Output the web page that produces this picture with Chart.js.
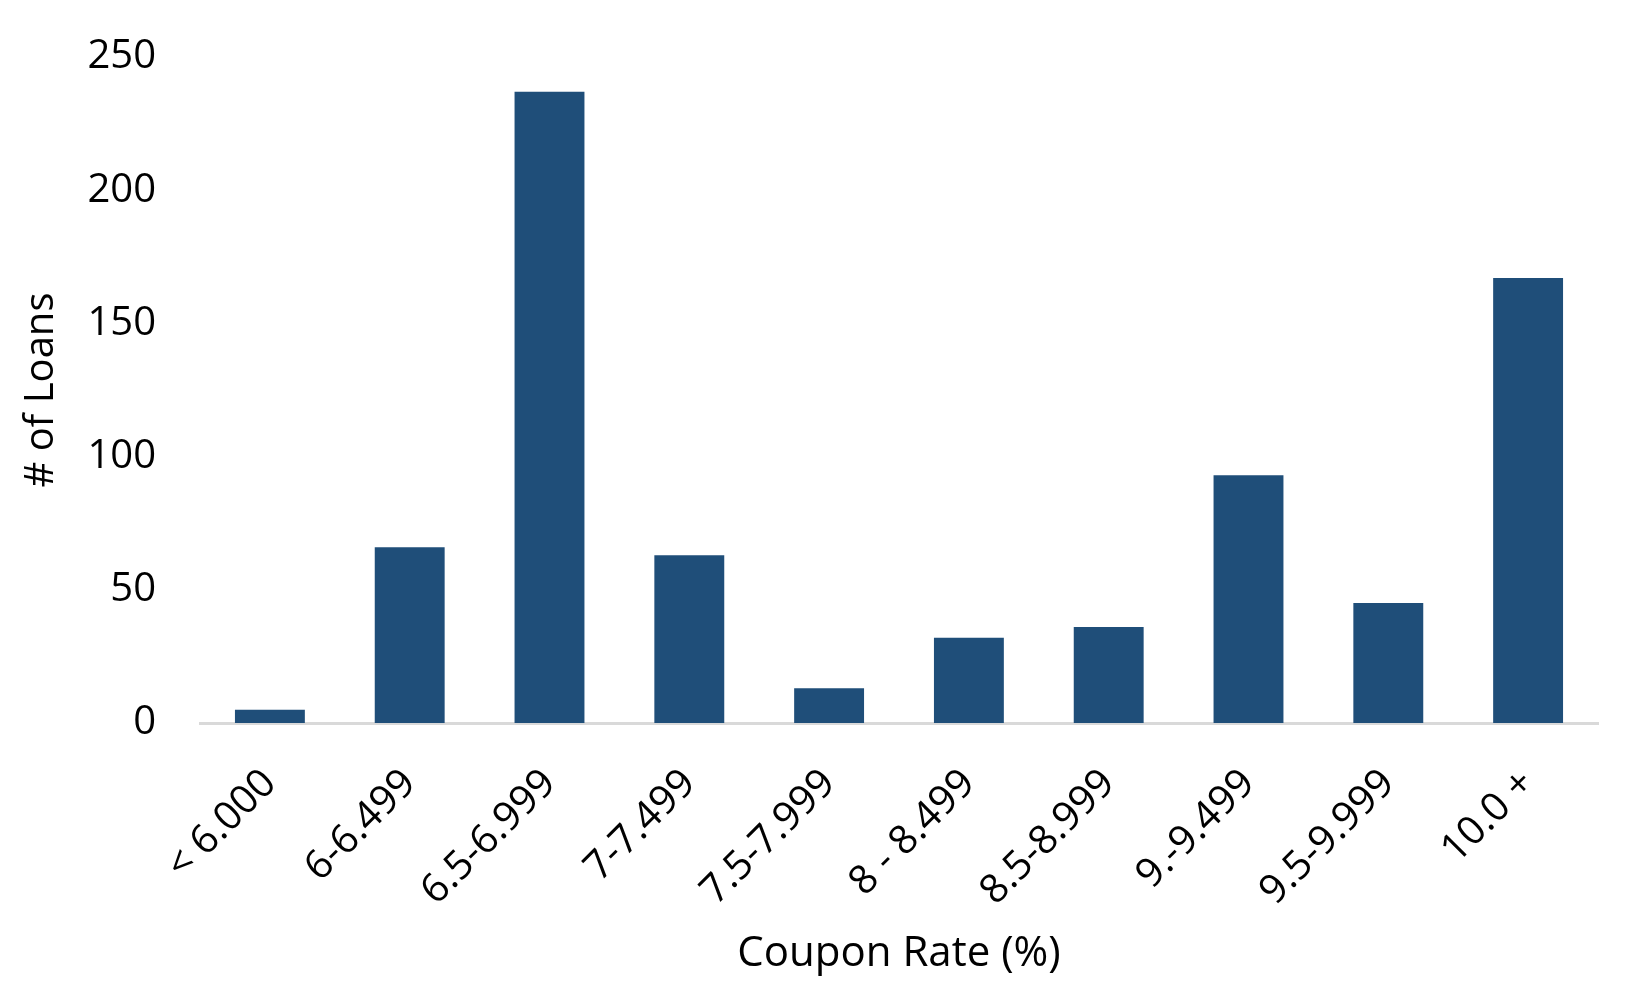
<!DOCTYPE html>
<html>
<head>
<meta charset="utf-8">
<title>Coupon Rate</title>
<script src="https://cdn.jsdelivr.net/npm/chart.js@4.4.1/dist/chart.umd.min.js"></script>
<style>
    html, body { margin: 0; padding: 0; background: #ffffff; }
    #myChartBar { display: block; }
</style>
</head>
<body>
<canvas id="myChartBar" width="1650" height="990"></canvas>
<script>
// Chart data
const categories = ['< 6.000', '6-6.499', '6.5-6.999', '7-7.499', '7.5-7.999',
                    '8 - 8.499', '8.5-8.999', '9.-9.499', '9.5-9.999', '10.0 +'];
const loanCounts = [5, 66, 237, 63, 13, 32, 36, 93, 45, 167];
const yTicks = [0, 50, 100, 150, 200, 250];

document.addEventListener("DOMContentLoaded", function(event) {
    buildChart();
});

function buildChart(){
    const ctxBar = document.getElementById('myChartBar').getContext('2d');
    const fontFamily = "'Open Sans', 'Noto Sans', sans-serif";

    const myChartBar = new Chart(ctxBar, {
        type: 'bar',
        data: {
            labels: categories,
            datasets: [{
                label: '# of Loans',
                data: loanCounts,
                backgroundColor: '#1F4E79',
                borderWidth: 0,
                categoryPercentage: 1.0,
                barPercentage: 0.5
            }]
        },
        options: {
            responsive: false,
            animation: false,
            devicePixelRatio: 1,
            layout: {
                padding: { top: 57, right: 52, bottom: 0, left: 0 }
            },
            plugins: {
                legend: { display: false },
                tooltip: { enabled: false }
            },
            scales: {
                x: {
                    grid: { display: false, drawTicks: false },
                    border: { display: true, color: '#d9d9d9', width: 3 },
                    ticks: {
                        color: '#000000',
                        autoSkip: false,
                        minRotation: 45,
                        maxRotation: 45,
                        padding: 37,
                        font: { family: fontFamily, size: 40 }
                    },
                    title: {
                        display: true,
                        text: 'Coupon Rate (%)',
                        color: '#000000',
                        padding: { top: 0, bottom: 11 },
                        font: { family: fontFamily, size: 42 }
                    },
                    afterFit: function(scale) {
                        scale.height = 267;
                    }
                },
                y: {
                    min: yTicks[0],
                    max: yTicks[yTicks.length - 1],
                    afterBuildTicks: function(scale) {
                        scale.ticks = yTicks.map(function(v){ return { value: v }; });
                    },
                    // tick marks are hidden, their length only spaces the labels
                    grid: { display: false, drawTicks: true, tickLength: 36 },
                    border: { display: false },
                    ticks: {
                        color: '#000000',
                        padding: 8,
                        font: { family: fontFamily, size: 40 }
                    },
                    title: {
                        display: true,
                        text: '# of Loans',
                        color: '#000000',
                        padding: { top: 18, bottom: 0 },
                        font: { family: fontFamily, size: 40 }
                    },
                    afterFit: function(scale) {
                        scale.width = 200;
                    }
                }
            }
        }
    });
}
</script>
</body>
</html>
